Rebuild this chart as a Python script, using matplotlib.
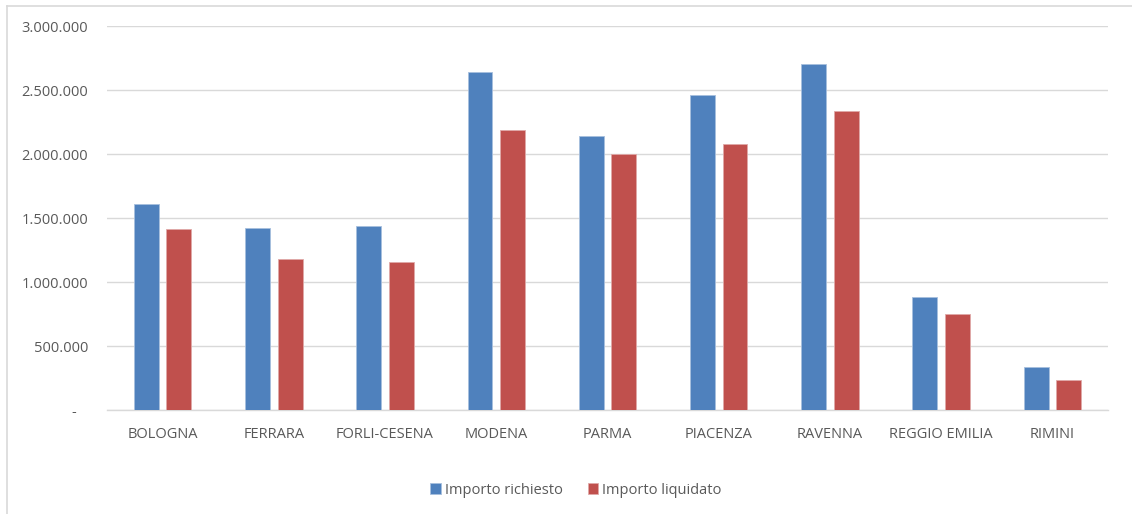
import matplotlib
matplotlib.use("Agg")
import matplotlib.pyplot as plt
from matplotlib.lines import Line2D
from matplotlib.ticker import FuncFormatter, MultipleLocator
import numpy as np

provinces = ["BOLOGNA", "FERRARA", "FORLI-CESENA", "MODENA", "PARMA",
             "PIACENZA", "RAVENNA", "REGGIO EMILIA", "RIMINI"]
importo_richiesto = [1609000, 1424000, 1435000, 2643000, 2138000,
                     2458000, 2700000, 880000, 333000]
importo_liquidato = [1412000, 1182000, 1156000, 2188000, 2001000,
                     2080000, 2336000, 747000, 234000]
series_labels = ["Importo richiesto", "Importo liquidato"]

blue = "#4f81bd"
red = "#c0504d"
text_gray = "#595959"
grid_gray = "#d9d9d9"

plt.rcParams["font.family"] = ["Open Sans", "DejaVu Sans"]

W, H = 1132, 514
fig = plt.figure(figsize=(W / 100, H / 100), dpi=100)
ax = fig.add_axes([107 / W, 1 - 410 / H, (1108 - 107) / W, (410 - 26) / H])

x = np.arange(len(provinces))
bw = 0.224
off = 0.146
ax.bar(x - off, importo_richiesto, bw, color=blue, edgecolor="#a7bfde",
       linewidth=0.6, label=series_labels[0], zorder=3)
ax.bar(x + off, importo_liquidato, bw, color=red, edgecolor="#e0a9a8",
       linewidth=0.6, label=series_labels[1], zorder=3)

ax.set_xlim(-0.5, len(provinces) - 0.5)
ax.set_ylim(0, 3000000)
ax.yaxis.set_major_locator(MultipleLocator(500000))


def it_fmt(v, _pos):
    # accounting style: zero shown as a dash, thousands separated by dots
    if v == 0:
        return "-   "
    return f"{int(round(v)):,}".replace(",", ".")


ax.yaxis.set_major_formatter(FuncFormatter(it_fmt))
ax.yaxis.grid(True, color=grid_gray, linewidth=1.0, zorder=0)
ax.set_axisbelow(True)
for s in ["top", "right", "left"]:
    ax.spines[s].set_visible(False)
ax.spines["bottom"].set_color(grid_gray)
ax.spines["bottom"].set_linewidth(1.0)

ax.set_xticks(x)
ax.set_xticklabels(provinces)
ax.tick_params(axis="both", length=0, colors=text_gray, labelsize=10.5)
ax.tick_params(axis="x", pad=12)
ax.tick_params(axis="y", pad=13.7)

leg = fig.legend(loc="center", bbox_to_anchor=(576 / W, 1 - 490 / H), ncol=2,
                 frameon=False, fontsize=10.5, handlelength=0.7,
                 handleheight=0.7, handletextpad=0.3, columnspacing=1.7)
for t in leg.get_texts():
    t.set_color(text_gray)

# outer chart frame (top and left edges)
fig.add_artist(Line2D([7 / W, 1.0], [1 - 6 / H, 1 - 6 / H],
                      transform=fig.transFigure, color=grid_gray, linewidth=1.2))
fig.add_artist(Line2D([7 / W, 7 / W], [0.0, 1 - 6 / H],
                      transform=fig.transFigure, color=grid_gray, linewidth=1.2))

fig.savefig("out.png", dpi=100, facecolor="white")
